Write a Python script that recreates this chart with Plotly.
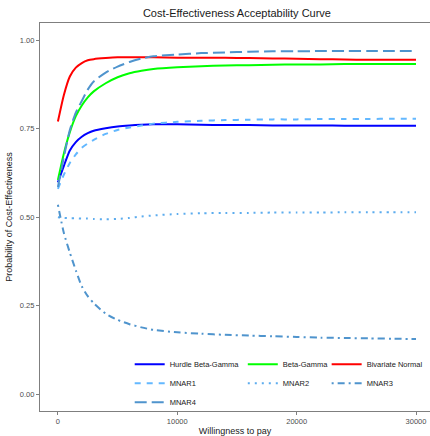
import plotly.graph_objects as go

wtp = [0, 500, 1000, 1500, 2000, 2500, 3000, 4000, 5000, 6000, 7000, 8000,
       10000, 12000, 14000, 16000, 18000, 20000, 22000, 24000, 26000, 28000, 30000]

hurdle_beta_gamma = [0.598, 0.645, 0.688, 0.712, 0.727, 0.737, 0.744, 0.751, 0.756, 0.759, 0.761, 0.762,
                     0.762, 0.761, 0.760, 0.760, 0.759, 0.759, 0.759, 0.758, 0.758, 0.758, 0.758]
beta_gamma = [0.605, 0.680, 0.740, 0.785, 0.815, 0.838, 0.855, 0.878, 0.895, 0.906, 0.913, 0.918,
              0.923, 0.926, 0.928, 0.929, 0.930, 0.931, 0.931, 0.932, 0.932, 0.932, 0.932]
bivariate_normal = [0.770, 0.845, 0.897, 0.922, 0.935, 0.943, 0.946, 0.949, 0.951, 0.951, 0.951, 0.951,
                    0.950, 0.950, 0.950, 0.949, 0.948, 0.947, 0.946, 0.945, 0.944, 0.944, 0.944]
mnar1 = [0.580, 0.620, 0.653, 0.677, 0.696, 0.708, 0.718, 0.735, 0.746, 0.753, 0.759, 0.764,
         0.769, 0.772, 0.774, 0.775, 0.776, 0.776, 0.777, 0.777, 0.777, 0.778, 0.778]
mnar2 = [0.500, 0.498, 0.497, 0.497, 0.496, 0.496, 0.495, 0.494, 0.495, 0.498, 0.502, 0.505,
         0.509, 0.511, 0.512, 0.512, 0.513, 0.513, 0.513, 0.514, 0.514, 0.514, 0.514]
mnar3 = [0.535, 0.455, 0.400, 0.350, 0.305, 0.277, 0.257, 0.228, 0.210, 0.198, 0.189, 0.182,
         0.175, 0.171, 0.168, 0.166, 0.164, 0.162, 0.160, 0.159, 0.158, 0.157, 0.156]
mnar4 = [0.585, 0.670, 0.746, 0.795, 0.828, 0.860, 0.883, 0.908, 0.925, 0.938, 0.948, 0.954,
         0.959, 0.963, 0.965, 0.967, 0.968, 0.968, 0.969, 0.969, 0.969, 0.969, 0.969]

x_ticks = [0, 10000, 20000, 30000]
x_tick_labels = ["0", "10000", "20000", "30000"]
y_ticks = [0, 0.25, 0.5, 0.75, 1.0]
y_tick_labels = ["0.00", "0.25", "0.50", "0.75", "1.00"]

series = [
    ("Hurdle Beta-Gamma", hurdle_beta_gamma, "#0000FF", "solid", "legend"),
    ("Beta-Gamma", beta_gamma, "#00FF00", "solid", "legend2"),
    ("Bivariate Normal", bivariate_normal, "#FF0000", "solid", "legend3"),
    ("MNAR1", mnar1, "#63B8FF", "6px,6px", "legend"),
    ("MNAR2", mnar2, "#5CACEE", "2px,5px", "legend2"),
    ("MNAR3", mnar3, "#4F94CD", "2px,4px,7px,4px", "legend3"),
    ("MNAR4", mnar4, "#4F94CD", "12px,5px", "legend"),
]

fig = go.Figure()
for name, vals, color, dash, leg in series:
    fig.add_trace(go.Scatter(
        x=wtp, y=vals, mode="lines", name=name, legend=leg,
        line=dict(color=color, width=2, dash=dash, shape="spline", smoothing=0.6),
    ))

font_family = "Liberation Sans, Arial, sans-serif"
leg_common = dict(font=dict(size=7.5, color="#1a1a1a", family=font_family),
                  bgcolor="rgba(0,0,0,0)", xanchor="left", yanchor="top",
                  orientation="v", y=0.158)

fig.update_layout(
    width=430, height=436,
    margin=dict(l=40, r=0, t=23, b=25, autoexpand=False),
    paper_bgcolor="white", plot_bgcolor="white",
    font=dict(family=font_family),
    title=dict(text="Cost-Effectiveness Acceptability Curve", x=0.551, xanchor="center",
               y=1 - 13 / 436, yanchor="middle", yref="container",
               font=dict(size=11, color="#1a1a1a")),
    xaxis=dict(range=[-1500, 31170], tickvals=x_ticks, ticktext=x_tick_labels,
               showgrid=False, zeroline=False, showline=True, mirror=True,
               linecolor="#7f7f7f", linewidth=1.2, ticks="outside", ticklen=3,
               tickcolor="#7f7f7f", tickfont=dict(size=7.5, color="#4d4d4d"),
               title=dict(text="Willingness to pay", font=dict(size=9, color="#1a1a1a"), standoff=6)),
    yaxis=dict(range=[-0.047, 1.048], tickvals=y_ticks, ticktext=y_tick_labels,
               showgrid=False, zeroline=False, showline=True, mirror=False,
               linecolor="#7f7f7f", linewidth=1.2, ticks="outside", ticklen=3,
               tickcolor="#7f7f7f", tickfont=dict(size=7.5, color="#4d4d4d"),
               title=dict(text="Probability of Cost-Effectiveness", font=dict(size=9, color="#1a1a1a"), standoff=5)),
    legend=dict(x=0.23, **leg_common),
    legend2=dict(x=0.52, **leg_common),
    legend3=dict(x=0.735, **leg_common),
)

fig.write_html("out.html", config={"displayModeBar": False},
               post_script="document.body.style.margin='0';document.body.style.overflow='hidden';")
